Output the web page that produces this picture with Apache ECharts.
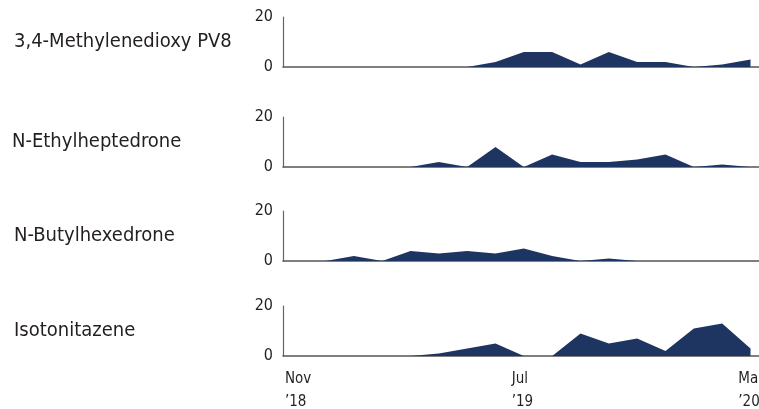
<!DOCTYPE html>
<html><head><meta charset="utf-8">
<script src="https://cdn.jsdelivr.net/npm/echarts@6/dist/echarts.min.js"></script>
<style>html,body{margin:0;padding:0;background:#fff}#c{width:759px;height:409px}</style>
</head><body><div id="c"></div>
<script>
const substances = ["3,4-Methylenedioxy PV8", "N-Ethylheptedrone", "N-Butylhexedrone", "Isotonitazene"];
// monthly values, Nov 2018 .. Mar 2020
const months = ["Nov '18","Dec '18","Jan '19","Feb '19","Mar '19","Apr '19","May '19","Jun '19","Jul '19","Aug '19","Sep '19","Oct '19","Nov '19","Dec '19","Jan '20","Feb '20","Mar '20"];
const pv8 =        [0,0,0,0,0,0,0,2,6,6,1,6,2,2,0,1,3];
const ethylhept =  [0,0,0,0,0,2,0,8,0,5,2,2,3,5,0,1,0];
const butylhex =   [0,0,2,0,4,3,4,3,5,2,0,1,0,0,0,0,0];
const isotonit =   [0,0,0,0,0,1,3,5,0,0,9,5,7,2,11,13,3];
const xTickLabels = {0: "Nov\n\u201918", 8: "Jul\n\u201919", 16: "Mar\n\u201920"};
const yTicks = [0, 20];

const seriesData = [pv8, ethylhept, butylhex, isotonit];
const FONT = '"Liberation Sans Narrow","DejaVu Sans Condensed","Roboto Condensed",sans-serif';
const tops = [17, 117, 211, 306];
const H = 50;
const navy = '#1e3562';

const grids = [], xAxes = [], yAxes = [], series = [], graphics = [];
seriesData.forEach((vals, k) => {
  grids.push({left: 283, right: 0, top: tops[k], height: H, containLabel: false, outerBoundsMode: 'none'});
  xAxes.push({
    type: 'value', gridIndex: k, min: 0, max: 16.8, interval: 8,
    axisLine: {show: true, onZero: false, lineStyle: {color: '#555', width: 1.5}},
    axisTick: {show: false}, splitLine: {show: false},
    axisLabel: {
      show: k === 3, align: 'left', verticalAlign: 'top', margin: 12,
      padding: [0, 0, 0, 2], lineHeight: 23, hideOverlap: false,
      fontFamily: FONT, fontSize: 15, color: '#231f20',
      formatter: v => xTickLabels[v] || ''
    }
  });
  yAxes.push({
    type: 'value', gridIndex: k, min: yTicks[0], max: yTicks[1], interval: 20,
    axisLine: {show: true, lineStyle: {color: '#666', width: 1.2}},
    axisTick: {show: false}, splitLine: {show: false},
    axisLabel: {margin: 10, fontFamily: FONT, fontSize: 16, color: '#231f20'}
  });
  series.push({
    type: 'line', xAxisIndex: k, yAxisIndex: k,
    data: vals.map((v, i) => [i + 0.5, v]),
    symbol: 'none', lineStyle: {width: 0, color: navy},
    areaStyle: {color: navy, opacity: 1}, silent: true
  });
  graphics.push({
    type: 'text',
    x: k === 1 ? 12 : 14, y: tops[k] + H / 2,
    style: {text: substances[k], font: '20px ' + FONT, fill: '#231f20', textVerticalAlign: 'middle'}
  });
});

const chart = echarts.init(document.getElementById('c'), null, {renderer: 'canvas'});
chart.setOption({
  animation: false,
  grid: grids, xAxis: xAxes, yAxis: yAxes, series: series,
  graphic: graphics
});
</script></body></html>
